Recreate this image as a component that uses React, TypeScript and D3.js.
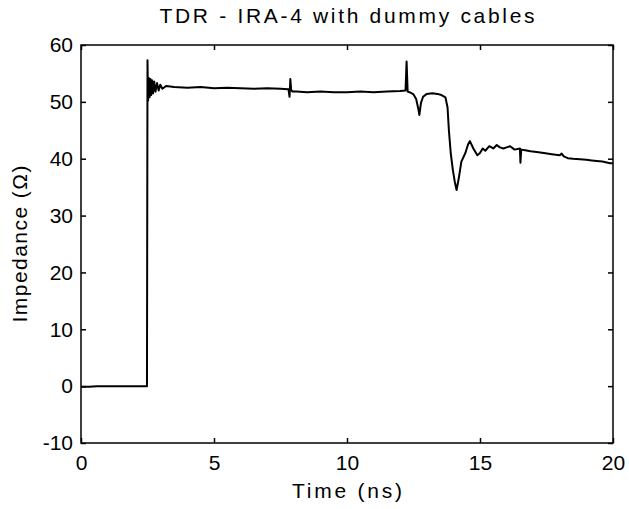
import React, { useEffect, useRef } from 'react';
import * as d3 from 'd3';

const timeNs = [
  0, 0.3, 0.6, 1.0, 1.5, 2.0, 2.46, 2.48, 2.5, 2.52, 2.55, 2.58, 2.61, 2.64, 2.67, 2.71,
  2.75, 2.8, 2.86, 2.92, 2.98, 3.06, 3.2, 3.5, 4.0, 4.5, 5.0, 5.5, 6.0, 6.5, 7.0, 7.5,
  7.8, 7.84, 7.87, 7.9, 7.95, 8.1, 8.5, 9.0, 9.5, 10.0, 10.5, 11.0, 11.5, 12.0, 12.2,
  12.24, 12.28, 12.4, 12.5, 12.6, 12.68, 12.72, 12.78, 12.86, 13.0, 13.2, 13.4, 13.55,
  13.7, 13.78, 13.83, 13.9, 13.98, 14.05, 14.12, 14.2, 14.3, 14.45, 14.55, 14.62, 14.75,
  14.9, 15.0, 15.1, 15.2, 15.35, 15.5, 15.63, 15.75, 15.88, 16.0, 16.13, 16.3, 16.5,
  16.52, 16.55, 16.7, 16.9, 17.13, 17.4, 17.7, 18.0, 18.07, 18.15, 18.3, 18.5, 18.76,
  19.0, 19.2, 19.39, 19.6, 19.89, 20.0,
];

const impedance = [
  -0.1, -0.1, 0, 0, 0, 0, 0, 0, 57.3, 50.2, 54.2, 50.8, 54.0, 51.2, 53.8, 51.5,
  53.6, 51.8, 53.3, 52.0, 53.0, 52.3, 52.8, 52.6, 52.5, 52.6, 52.4, 52.5, 52.4, 52.3,
  52.4, 52.3, 52.2, 50.9, 54.0, 52.1, 51.8, 51.8, 51.7, 51.8, 51.7, 51.7, 51.8, 51.7,
  51.8, 51.9, 52.0, 57.1, 51.8, 51.6, 51.3, 50.5, 48.8, 47.7, 49.8, 50.9, 51.4, 51.5,
  51.4, 51.2, 50.8, 49.0, 45.0, 41.0, 38.0, 36.0, 34.5, 36.5, 39.5, 41.0, 42.5, 43.1,
  41.8, 40.6, 41.0, 41.8, 41.4, 42.2, 41.8, 42.4, 42.0, 41.8, 42.0, 42.2, 41.6, 41.8,
  39.3, 41.6, 41.5, 41.3, 41.2, 41.0, 40.8, 40.6, 40.9, 40.4, 40.1, 40.0, 39.9, 39.8,
  39.7, 39.6, 39.5, 39.2, 39.2,
];

const xTicks = [0, 5, 10, 15, 20];
const yTicks = [-10, 0, 10, 20, 30, 40, 50, 60];

const titleText = 'TDR - IRA-4 with dummy cables';
const xLabel = 'Time (ns)';
const yLabel = 'Impedance (\u03a9)';

const W = 629;
const H = 509;
const FONT = '"Liberation Sans", Arial, sans-serif';

const App: React.FC = () => {
  const svgRef = useRef<SVGSVGElement>(null);

  useEffect(() => {
    if (!svgRef.current) return;
    const margin = { top: 45, right: 16, bottom: 66, left: 81 };
    const width = W - margin.left - margin.right;
    const height = H - margin.top - margin.bottom;

    const svg = d3.select(svgRef.current);
    svg.selectAll('*').remove();

    const g = svg.append('g').attr('transform', `translate(${margin.left},${margin.top})`);

    const x = d3.scaleLinear().domain([0, 20]).range([0, width]);
    const y = d3.scaleLinear().domain([-10, 60]).range([height, 0]);

    const styleAxis = (sel: d3.Selection<SVGGElement, unknown, null, undefined>) => {
      sel.select('.domain').remove();
      sel.selectAll('line').attr('stroke', '#000').attr('stroke-width', 1.5);
      sel.selectAll('text')
        .attr('fill', '#000')
        .style('font-family', FONT)
        .style('font-size', '21px');
    };

    const plain = (d: d3.NumberValue) => String(d);

    // bottom / top
    g.append('g')
      .attr('transform', `translate(0,${height})`)
      .call(d3.axisBottom(x).tickValues(xTicks).tickSize(-5).tickPadding(12).tickFormat(plain))
      .call(styleAxis);
    g.append('g')
      .call(d3.axisTop(x).tickValues(xTicks).tickSize(-5).tickFormat(() => ''))
      .call(styleAxis);

    // left / right
    g.append('g')
      .call(d3.axisLeft(y).tickValues(yTicks).tickSize(-5).tickPadding(8).tickFormat(plain))
      .call(styleAxis);
    g.append('g')
      .attr('transform', `translate(${width},0)`)
      .call(d3.axisRight(y).tickValues(yTicks).tickSize(-5).tickFormat(() => ''))
      .call(styleAxis);

    // box
    g.append('rect')
      .attr('width', width)
      .attr('height', height)
      .attr('fill', 'none')
      .attr('stroke', '#000')
      .attr('stroke-width', 1.5);

    const pts: [number, number][] = timeNs.map((t, i) => [t, impedance[i]]);
    const line = d3.line<[number, number]>()
      .x(d => x(d[0]))
      .y(d => y(d[1]));

    g.append('path')
      .datum(pts)
      .attr('d', line)
      .attr('fill', 'none')
      .attr('stroke', '#000')
      .attr('stroke-width', 2)
      .attr('stroke-linejoin', 'round');

    // title and labels
    svg.append('text')
      .attr('x', margin.left + width / 2)
      .attr('y', 23)
      .attr('text-anchor', 'middle')
      .attr('textLength', 375)
      .attr('lengthAdjust', 'spacing')
      .style('font-family', FONT)
      .style('font-size', '21px')
      .text(titleText);

    svg.append('text')
      .attr('x', margin.left + width / 2)
      .attr('y', 498)
      .attr('text-anchor', 'middle')
      .attr('textLength', 110)
      .attr('lengthAdjust', 'spacing')
      .style('font-family', FONT)
      .style('font-size', '21px')
      .text(xLabel);

    svg.append('text')
      .attr('transform', `translate(27,${margin.top + height / 2}) rotate(-90)`)
      .attr('text-anchor', 'middle')
      .attr('textLength', 157)
      .attr('lengthAdjust', 'spacing')
      .style('font-family', FONT)
      .style('font-size', '21px')
      .text(yLabel);
  }, []);

  return (
    <svg
      ref={svgRef}
      width={W}
      height={H}
      style={{ position: 'absolute', left: 0, top: 0, background: '#fff' }}
    />
  );
};

export default App;
